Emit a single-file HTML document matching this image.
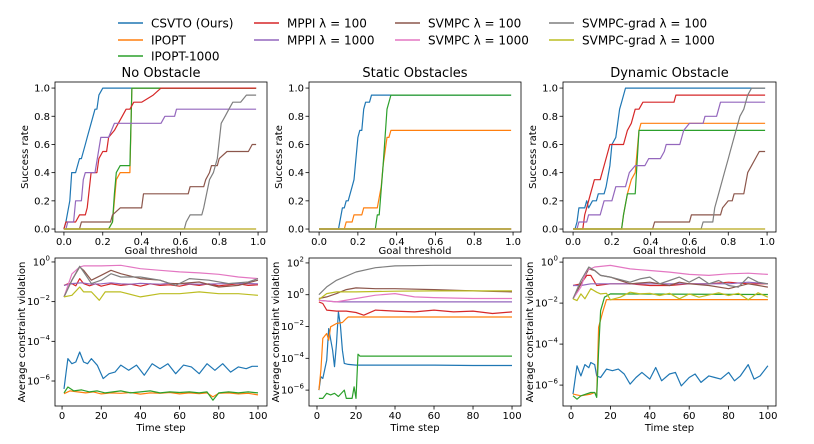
<!DOCTYPE html>
<html><head><meta charset="utf-8"><style>
html,body{margin:0;padding:0;background:#fff;}
svg{display:block;font-family:"DejaVu Sans","Liberation Sans",sans-serif;}
</style></head><body>
<svg id="chart" width="814" height="444" viewBox="0 0 814 444"></svg>
<script>
const seriesNames = ["CSVTO (Ours)","IPOPT","IPOPT-1000","MPPI λ = 100","MPPI λ = 1000","SVMPC λ = 100","SVMPC λ = 1000","SVMPC-grad λ = 100","SVMPC-grad λ = 1000"];
const seriesKeys = ["blue","orange","green","red","purple","brown","pink","gray","olive"];
const seriesColors = ["#1f77b4","#ff7f0e","#2ca02c","#d62728","#9467bd","#8c564b","#e377c2","#7f7f7f","#bcbd22"];
const panelTitles = ["No Obstacle","Static Obstacles","Dynamic Obstacle"];
const rateTicks = [0,0.2,0.4,0.6,0.8,1.0];
const rateTickLabels = ["0.0","0.2","0.4","0.6","0.8","1.0"];
const timeTicks = [0,20,40,60,80,100];
const violTicksA = [0,-2,-4,-6];
const violTicksB = [2,0,-2,-4,-6];

// Success rate: [threshold, rate]
const noObsRate = {
 blue:[[0,0],[0.01,0.05],[0.03,0.2],[0.04,0.4],[0.06,0.4],[0.08,0.5],[0.09,0.5],[0.11,0.6],[0.12,0.65],[0.14,0.75],[0.16,0.85],[0.17,0.85],[0.18,0.95],[0.2,1.0],[0.99,1.0]],
 orange:[[0,0],[0.23,0],[0.25,0.05],[0.27,0.35],[0.29,0.4],[0.34,0.4],[0.35,1.0],[0.99,1.0]],
 green:[[0,0],[0.23,0],[0.25,0.05],[0.26,0.25],[0.27,0.4],[0.29,0.45],[0.34,0.45],[0.35,1.0],[0.99,1.0]],
 red:[[0,0],[0.01,0.05],[0.06,0.05],[0.08,0.1],[0.11,0.1],[0.12,0.15],[0.14,0.4],[0.17,0.4],[0.18,0.5],[0.2,0.55],[0.22,0.55],[0.23,0.65],[0.26,0.7],[0.28,0.75],[0.3,0.8],[0.32,0.85],[0.34,0.85],[0.36,0.9],[0.4,0.9],[0.46,0.95],[0.5,1.0],[0.99,1.0]],
 purple:[[0.01,0],[0.02,0.05],[0.05,0.05],[0.06,0.2],[0.09,0.2],[0.1,0.35],[0.11,0.4],[0.16,0.4],[0.19,0.65],[0.23,0.65],[0.26,0.75],[0.5,0.75],[0.52,0.8],[0.57,0.8],[0.58,0.85],[0.99,0.85]],
 brown:[[0,0],[0.08,0],[0.09,0.05],[0.24,0.05],[0.25,0.1],[0.29,0.15],[0.4,0.15],[0.41,0.25],[0.64,0.25],[0.65,0.3],[0.72,0.3],[0.73,0.35],[0.75,0.4],[0.76,0.45],[0.79,0.45],[0.8,0.5],[0.84,0.55],[0.95,0.55],[0.97,0.6],[0.99,0.6]],
 pink:[[0,0],[0.99,0]],
 gray:[[0,0],[0.62,0],[0.63,0.05],[0.65,0.1],[0.71,0.1],[0.72,0.15],[0.75,0.35],[0.77,0.4],[0.79,0.5],[0.81,0.75],[0.83,0.8],[0.85,0.85],[0.87,0.9],[0.91,0.9],[0.94,0.95],[0.99,0.95]],
 olive:[[0,0],[0.99,0]]
};
const staticRate = {
 blue:[[0,0],[0.1,0],[0.12,0.15],[0.13,0.15],[0.14,0.2],[0.15,0.2],[0.17,0.3],[0.18,0.35],[0.2,0.65],[0.21,0.7],[0.22,0.7],[0.23,0.85],[0.24,0.9],[0.26,0.9],[0.27,0.95],[0.99,0.95]],
 orange:[[0,0],[0.13,0],[0.14,0.05],[0.17,0.05],[0.18,0.1],[0.22,0.1],[0.23,0.15],[0.3,0.15],[0.32,0.3],[0.33,0.45],[0.35,0.65],[0.36,0.65],[0.37,0.7],[0.99,0.7]],
 green:[[0,0],[0.29,0],[0.3,0.1],[0.31,0.1],[0.33,0.45],[0.35,0.85],[0.37,0.95],[0.99,0.95]],
 red:[[0,0],[0.99,0]], purple:[[0,0],[0.99,0]], brown:[[0,0],[0.99,0]], pink:[[0,0],[0.99,0]], gray:[[0,0],[0.99,0]], olive:[[0,0],[0.99,0]]
};
const dynRate = {
 blue:[[0,0],[0.01,0],[0.02,0.05],[0.03,0.15],[0.06,0.15],[0.07,0.2],[0.08,0.15],[0.1,0.2],[0.12,0.2],[0.13,0.25],[0.16,0.25],[0.17,0.3],[0.19,0.45],[0.2,0.6],[0.22,0.65],[0.24,0.85],[0.25,0.9],[0.27,1.0],[0.99,1.0]],
 orange:[[0,0],[0.25,0],[0.26,0.1],[0.28,0.25],[0.3,0.35],[0.32,0.4],[0.34,0.7],[0.35,0.75],[0.99,0.75]],
 green:[[0,0],[0.25,0],[0.26,0.1],[0.28,0.25],[0.32,0.25],[0.34,0.7],[0.99,0.7]],
 red:[[0,0],[0.05,0],[0.06,0.1],[0.08,0.2],[0.09,0.25],[0.1,0.3],[0.11,0.35],[0.14,0.35],[0.16,0.45],[0.18,0.55],[0.19,0.6],[0.26,0.6],[0.28,0.7],[0.3,0.75],[0.32,0.85],[0.34,0.85],[0.36,0.9],[0.52,0.9],[0.53,0.95],[0.99,0.95]],
 purple:[[0.02,0],[0.03,0.05],[0.07,0.05],[0.08,0.1],[0.14,0.1],[0.16,0.2],[0.2,0.2],[0.22,0.3],[0.27,0.3],[0.29,0.4],[0.32,0.45],[0.37,0.45],[0.39,0.5],[0.45,0.5],[0.47,0.55],[0.48,0.6],[0.55,0.6],[0.57,0.7],[0.6,0.75],[0.67,0.75],[0.68,0.8],[0.74,0.8],[0.76,0.9],[0.99,0.9]],
 brown:[[0,0],[0.41,0],[0.42,0.05],[0.6,0.05],[0.61,0.1],[0.76,0.1],[0.77,0.15],[0.8,0.2],[0.82,0.2],[0.83,0.25],[0.88,0.25],[0.9,0.4],[0.92,0.45],[0.94,0.5],[0.96,0.55],[0.99,0.55]],
 pink:[[0,0],[0.99,0]],
 gray:[[0,0],[0.66,0],[0.67,0.05],[0.72,0.05],[0.73,0.15],[0.75,0.25],[0.78,0.4],[0.8,0.5],[0.81,0.55],[0.83,0.65],[0.86,0.8],[0.88,0.85],[0.9,0.95],[0.92,1.0],[0.99,1.0]],
 olive:[[0,0],[0.99,0]]
};

// Constraint violation: [time step, log10(violation)]
const noObsViol = {
 blue:[[1,-6.4],[2,-5.6],[3,-4.87],[5,-5.13],[7,-5.04],[9,-4.54],[11,-5.04],[13,-5.13],[15,-4.87],[18,-5.21],[21,-5.88],[24,-5.63],[27,-5.55],[30,-5.2],[34,-5.46],[38,-5.2],[42,-5.71],[46,-5.13],[50,-5.38],[54,-5.13],[58,-5.63],[62,-5.2],[66,-5.29],[70,-5.63],[74,-5.13],[78,-5.46],[82,-5.13],[86,-5.55],[90,-5.29],[94,-5.38],[97,-5.26],[100,-5.26]],
 orange:[[1,-6.64],[4,-6.5],[8,-6.55],[12,-6.6],[16,-6.55],[20,-6.65],[25,-6.6],[30,-6.62],[35,-6.58],[40,-6.66],[45,-6.6],[50,-6.62],[55,-6.58],[60,-6.65],[65,-6.6],[70,-6.64],[74,-6.6],[77,-6.8],[80,-6.62],[85,-6.6],[90,-6.65],[95,-6.62],[100,-6.7]],
 green:[[1,-6.6],[3,-6.3],[6,-6.5],[10,-6.45],[14,-6.55],[18,-6.5],[22,-6.6],[26,-6.55],[30,-6.5],[35,-6.6],[40,-6.55],[45,-6.5],[50,-6.6],[55,-6.55],[60,-6.58],[65,-6.55],[70,-6.6],[74,-6.55],[77,-6.97],[80,-6.6],[85,-6.55],[90,-6.6],[95,-6.55],[100,-6.6]],
 red:[[1,-1.18],[3,-1.1],[5,-1.09],[7,-1.2],[9,-0.84],[11,-1.09],[14,-1.2],[17,-1.1],[20,-1.22],[25,-1.1],[30,-1.18],[35,-1.12],[40,-1.22],[45,-1.1],[50,-1.18],[55,-1.15],[60,-1.22],[65,-1.12],[70,-1.18],[75,-1.1],[80,-1.2],[85,-1.15],[90,-1.1],[95,-1.18],[100,-1.15]],
 purple:[[1,-1.18],[5,-1.09],[10,-1.05],[15,-1.12],[20,-1.1],[25,-1.05],[30,-1.1],[35,-1.12],[40,-1.08],[45,-1.1],[50,-1.12],[55,-1.08],[60,-1.1],[70,-1.12],[80,-1.1],[90,-1.08],[100,-1.1]],
 pink:[[1,-1.76],[5,-0.6],[9,-0.25],[11,-0.2],[20,-0.2],[30,-0.17],[40,-0.34],[50,-0.42],[60,-0.5],[70,-0.55],[80,-0.62],[90,-0.76],[100,-0.84]],
 brown:[[1,-1.76],[5,-0.92],[9,-0.25],[11,-0.42],[15,-0.92],[20,-0.67],[25,-0.42],[30,-0.59],[40,-0.84],[50,-0.92],[55,-1.09],[60,-1.09],[70,-1.01],[80,-1.26],[90,-1.18],[100,-0.92]],
 gray:[[1,-1.76],[5,-0.92],[9,-0.22],[11,-0.5],[15,-1.09],[20,-0.92],[25,-0.59],[30,-0.76],[40,-0.76],[50,-0.92],[58,-1.18],[65,-0.84],[75,-0.92],[85,-1.09],[95,-1.01],[100,-0.84]],
 olive:[[1,-1.76],[5,-1.68],[9,-1.26],[11,-1.51],[15,-1.51],[19,-1.93],[22,-1.51],[30,-1.51],[40,-1.76],[50,-1.6],[60,-1.6],[70,-1.51],[80,-1.6],[90,-1.6],[100,-1.68]]
};
const staticViol = {
 blue:[[1,-6.0],[2,-5.16],[3,-5.27],[5,-4.12],[6,-2.13],[8,-3.49],[9,-4.53],[10,-3.07],[11,-1.08],[12,-1.92],[13,-3.49],[14,-4.32],[16,-4.38],[20,-4.43],[40,-4.43],[60,-4.43],[80,-4.45],[100,-4.45]],
 orange:[[1,-6.0],[2,-4.74],[3,-2.75],[5,-2.44],[6,-2.86],[7,-2.02],[10,-1.81],[13,-1.75],[15,-1.5],[16,-1.4],[100,-1.4]],
 green:[[1,-6.52],[3,-6.52],[5,-6.2],[7,-6.3],[9,-6.2],[11,-6.4],[14,-6.0],[15,-6.52],[18,-6.52],[19,-5.8],[20,-6.52],[21,-3.74],[22,-3.86],[100,-3.86]],
 red:[[1,-0.45],[3,-0.55],[5,-0.97],[10,-1.03],[15,-1.03],[20,-1.12],[24,-1.29],[30,-0.97],[40,-1.03],[50,-1.08],[60,-0.97],[70,-1.08],[80,-1.03],[90,-1.18],[100,-1.08]],
 purple:[[1,-0.35],[10,-0.45],[20,-0.45],[40,-0.45],[60,-0.45],[80,-0.45],[100,-0.45]],
 pink:[[1,-0.35],[10,-0.45],[20,-0.24],[30,-0.03],[40,0.07],[50,-0.14],[60,-0.18],[80,-0.24],[100,-0.24]],
 brown:[[1,-0.24],[5,-0.14],[10,0.07],[15,0.32],[20,0.43],[30,0.38],[40,0.38],[60,0.32],[80,0.24],[100,0.18]],
 gray:[[1,0.0],[5,0.49],[10,0.91],[20,1.43],[30,1.7],[40,1.81],[60,1.85],[100,1.85]],
 olive:[[1,-0.3],[5,0.07],[10,0.18],[20,0.18],[30,0.2],[40,0.22],[60,0.24],[100,0.24]]
};
const dynViol = {
 blue:[[1,-6.44],[3,-5.06],[5,-5.55],[7,-5.0],[9,-5.15],[10,-4.9],[12,-5.0],[13,-5.55],[15,-5.63],[18,-5.22],[21,-5.3],[24,-5.22],[27,-5.46],[30,-5.95],[33,-5.63],[36,-5.38],[40,-5.71],[43,-5.14],[46,-5.79],[50,-5.46],[53,-5.38],[56,-6.04],[60,-5.63],[63,-5.46],[66,-5.87],[70,-5.55],[73,-5.63],[76,-5.71],[80,-5.38],[83,-5.79],[86,-5.55],[90,-5.0],[93,-5.71],[96,-5.55],[100,-5.06]],
 orange:[[1,-6.44],[5,-6.52],[10,-6.44],[12,-6.36],[13,-6.52],[14,-3.18],[16,-2.45],[18,-1.83],[100,-1.83]],
 green:[[1,-6.52],[3,-6.69],[5,-6.52],[10,-6.36],[12,-6.36],[13,-6.6],[14,-4.32],[15,-2.37],[17,-1.71],[20,-1.55],[100,-1.58]],
 red:[[1,-1.14],[5,-1.06],[8,-0.65],[10,-0.65],[13,-1.14],[20,-1.06],[30,-1.06],[40,-1.14],[50,-1.14],[60,-1.06],[70,-1.06],[80,-0.98],[90,-1.06],[100,-1.06]],
 purple:[[1,-1.14],[5,-1.14],[10,-1.06],[20,-1.06],[40,-1.06],[60,-1.06],[80,-1.06],[90,-0.98],[100,-1.06]],
 pink:[[1,-1.79],[5,-1.22],[8,-0.41],[12,-0.24],[20,-0.16],[30,-0.33],[40,-0.41],[50,-0.49],[60,-0.6],[70,-0.65],[80,-0.57],[90,-0.54],[100,-0.6]],
 brown:[[1,-1.79],[5,-1.06],[9,-0.33],[12,-0.41],[15,-0.65],[20,-0.73],[25,-0.9],[30,-1.06],[40,-0.98],[50,-1.14],[55,-0.98],[60,-1.06],[70,-1.14],[80,-1.3],[90,-1.06],[100,-1.22]],
 gray:[[1,-1.79],[5,-0.9],[9,-0.24],[12,-0.41],[15,-0.65],[20,-0.73],[30,-0.98],[35,-0.82],[40,-0.73],[45,-1.06],[50,-0.9],[55,-0.73],[60,-0.98],[65,-0.73],[70,-1.06],[75,-0.9],[80,-1.14],[85,-1.22],[90,-0.73],[95,-0.98],[100,-1.06]],
 olive:[[1,-1.79],[3,-1.88],[5,-1.55],[7,-1.79],[10,-1.3],[13,-1.47],[15,-1.55],[18,-1.52],[20,-1.84],[25,-1.71],[30,-1.47],[35,-1.55],[40,-1.52],[45,-1.63],[50,-1.52],[55,-1.79],[60,-1.55],[65,-1.71],[70,-1.6],[75,-1.5],[80,-1.63],[85,-1.52],[90,-1.84],[95,-1.5],[100,-1.71]]
};

const NS = "http://www.w3.org/2000/svg";
const svg = document.getElementById("chart");
function mk(tag, attrs, parent){
  const e = document.createElementNS(NS, tag);
  for (const k in attrs) e.setAttribute(k, attrs[k]);
  (parent||svg).appendChild(e);
  return e;
}

// Legend
const legCols = [[118,151],[254,287],[395,428],[549,582]];
const legRows = [23,40,56];
const legLayout = [[0,0],[0,1],[0,2],[1,0],[1,1],[2,0],[2,1],[3,0],[3,1]];
const legend = mk("g", {});


seriesNames.forEach((nm, i) => {
  const [c, r] = legLayout[i];
  const g = mk("g", {}, legend);
  
  
  mk("line", {x1:legCols[c][0], x2:legCols[c][0]+25, y1:legRows[r], y2:legRows[r], stroke:seriesColors[i], "stroke-width":1.5}, g);
  const t = mk("text", {x:legCols[c][1], y:legRows[r]+4.5, "font-size":12, fill:"#000"}, g);
  t.textContent = nm;
});

const topPanels = [
  {x:55, y:82, w:212, h:150, xmin:-0.046, xmax:1.046, ymin:-0.021, ymax:1.043, data:noObsRate, key:"no-obstacle"},
  {x:309, y:82, w:212, h:150, xmin:-0.052, xmax:1.041, ymin:-0.021, ymax:1.043, data:staticRate, key:"static-obstacles"},
  {x:563, y:82, w:213, h:150, xmin:-0.052, xmax:1.046, ymin:-0.021, ymax:1.043, data:dynRate, key:"dynamic-obstacle"}
];
const botPanels = [
  {x:55, y:258, w:212, h:148, xmin:-3.6, xmax:104.6, ymin:-7.26, ymax:0.2, data:noObsViol, ticks:violTicksA, key:"no-obstacle"},
  {x:309, y:258, w:212, h:148, xmin:-4.1, xmax:104.6, ymin:-7.0, ymax:2.31, data:staticViol, ticks:violTicksB, key:"static-obstacles"},
  {x:563, y:258, w:213, h:148, xmin:-4.1, xmax:104.1, ymin:-7.02, ymax:0.2, data:dynViol, ticks:violTicksA, key:"dynamic-obstacle"}
];

function scales(p){
  return {
    sx: v => p.x + (v - p.xmin) / (p.xmax - p.xmin) * p.w,
    sy: v => p.y + p.h - (v - p.ymin) / (p.ymax - p.ymin) * p.h
  };
}
function drawSeries(p, g, sx, sy){
  const order = ["blue","orange","green","red","purple","brown","pink","gray","olive"];
  order.forEach((k, i) => {
    const pts = p.data[k];
    if (!pts) return;
    const d = pts.map((q, j) => (j ? "L" : "M") + sx(q[0]).toFixed(1) + "," + sy(q[1]).toFixed(1)).join("");
    const path = mk("path", {d:d, fill:"none", stroke:seriesColors[i], "stroke-width":1.2, "stroke-linejoin":"round"}, g);
    
    
  });
}
function frame(p, g){
  const r = mk("rect", {x:p.x, y:p.y, width:p.w, height:p.h, fill:"none", stroke:"#000", "stroke-width":0.8}, g);
  
  
}

topPanels.forEach((p, pi) => {
  const {sx, sy} = scales(p);
  const g = mk("g", {});
  
  
  const title = mk("text", {x:p.x + p.w/2, y:p.y - 5, "text-anchor":"middle", "font-size":13}, g);
  title.textContent = panelTitles[pi];
  
  
  const clip = mk("clipPath", {id:"ct"+pi}, g);
  mk("rect", {x:p.x, y:p.y, width:p.w, height:p.h}, clip);
  const lg = mk("g", {"clip-path":"url(#ct"+pi+")"}, g);
  drawSeries(p, lg, sx, sy);
  frame(p, g);
  rateTicks.forEach((v, i) => {
    mk("line", {x1:sx(v), x2:sx(v), y1:p.y+p.h, y2:p.y+p.h+3.5, stroke:"#000", "stroke-width":0.8}, g);
    const tx = mk("text", {x:sx(v), y:p.y+p.h+13, "text-anchor":"middle", "font-size":10}, g);
    tx.textContent = rateTickLabels[i];
    mk("line", {x1:p.x-3.5, x2:p.x, y1:sy(v), y2:sy(v), stroke:"#000", "stroke-width":0.8}, g);
    const ty = mk("text", {x:p.x-5, y:sy(v)+3.5, "text-anchor":"end", "font-size":10}, g);
    ty.textContent = rateTickLabels[i];
  });
  const xl = mk("text", {x:p.x + p.w/2, y:p.y+p.h+22, "text-anchor":"middle", "font-size":10}, g);
  xl.textContent = "Goal threshold";
  
  
  const yx = p.x - 27, yy = p.y + p.h/2;
  const yl = mk("text", {x:yx, y:yy, "text-anchor":"middle", "font-size":10, transform:"rotate(-90 "+yx+" "+yy+")"}, g);
  yl.textContent = "Success rate";
  
  
});

botPanels.forEach((p, pi) => {
  const {sx, sy} = scales(p);
  const g = mk("g", {});
  
  
  const clip = mk("clipPath", {id:"cb"+pi}, g);
  mk("rect", {x:p.x, y:p.y, width:p.w, height:p.h}, clip);
  const lg = mk("g", {"clip-path":"url(#cb"+pi+")"}, g);
  drawSeries(p, lg, sx, sy);
  frame(p, g);
  timeTicks.forEach(v => {
    mk("line", {x1:sx(v), x2:sx(v), y1:p.y+p.h, y2:p.y+p.h+3.5, stroke:"#000", "stroke-width":0.8}, g);
    const tx = mk("text", {x:sx(v), y:p.y+p.h+13, "text-anchor":"middle", "font-size":10}, g);
    tx.textContent = String(v);
  });
  p.ticks.forEach(v => {
    mk("line", {x1:p.x-3.5, x2:p.x, y1:sy(v), y2:sy(v), stroke:"#000", "stroke-width":0.8}, g);
    const ty = mk("text", {x:p.x-5, y:sy(v)+3.5, "text-anchor":"end", "font-size":10}, g);
    const a = mk("tspan", {}, ty); a.textContent = "10";
    const b = mk("tspan", {dy:-5, "font-size":7}, ty); b.textContent = v < 0 ? "−" + (-v) : String(v);
  });
  const xl = mk("text", {x:p.x + p.w/2, y:p.y+p.h+25, "text-anchor":"middle", "font-size":10}, g);
  xl.textContent = "Time step";
  
  
  const yx = p.x - 30, yy = p.y + p.h/2;
  const yl = mk("text", {x:yx, y:yy, "text-anchor":"middle", "font-size":10, transform:"rotate(-90 "+yx+" "+yy+")"}, g);
  yl.textContent = "Average constraint violation";
  
  
});
</script>
</body></html>
